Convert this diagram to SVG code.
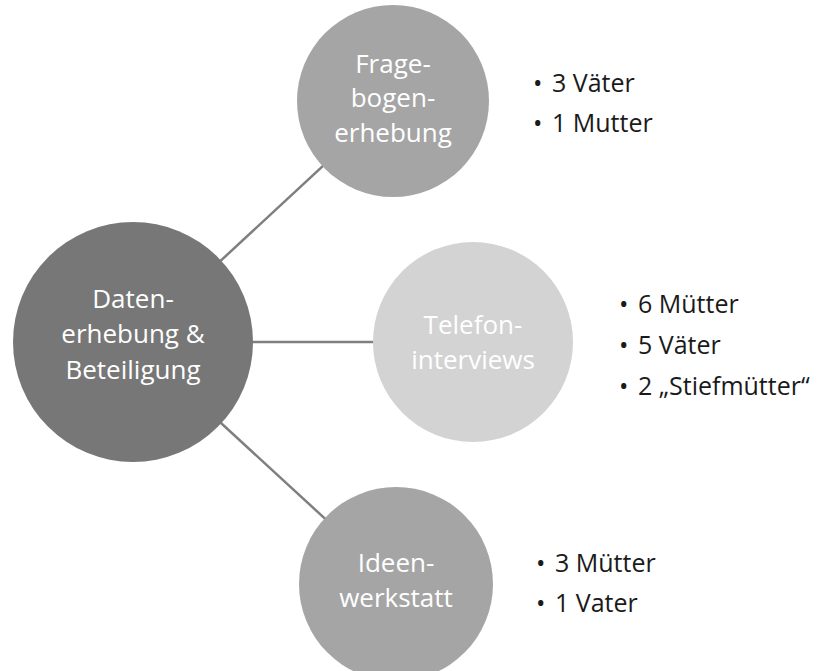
<svg xmlns="http://www.w3.org/2000/svg" width="823" height="671" viewBox="0 0 823 671">
  <style>
    .lbl { font-family: "Open Sans", "Liberation Sans", sans-serif; font-size: 26px; fill: #ffffff; text-anchor: middle; }
    .itm { font-family: "Open Sans", "Liberation Sans", sans-serif; font-size: 25px; fill: #1a1a1a; }
    .conn { stroke: #7f7f7f; stroke-width: 2.5; fill: none; }
  </style>
  <rect width="823" height="671" fill="#ffffff"/>
  <g id="connectors">
    <line class="conn" x1="133" y1="342" x2="393" y2="101"/>
    <line class="conn" x1="133" y1="342" x2="473" y2="342"/>
    <line class="conn" x1="133" y1="342" x2="396" y2="584"/>
  </g>
  <g id="node-main">
    <circle cx="133" cy="342" r="120" fill="#777777"/>
    <text class="lbl" x="133" y="308">Daten-</text>
    <text class="lbl" x="133" y="343">erhebung &amp;</text>
    <text class="lbl" x="133" y="379">Beteiligung</text>
  </g>
  <g id="node-fragebogen">
    <circle cx="393" cy="101" r="96" fill="#a5a5a5"/>
    <text class="lbl" x="393" y="73">Frage-</text>
    <text class="lbl" x="393" y="107">bogen-</text>
    <text class="lbl" x="393" y="142">erhebung</text>
  </g>
  <g id="node-telefon">
    <circle cx="473" cy="342" r="100" fill="#d3d3d3"/>
    <text class="lbl" x="473" y="334">Telefon-</text>
    <text class="lbl" x="473" y="369">interviews</text>
  </g>
  <g id="node-ideen">
    <circle cx="396" cy="584" r="97" fill="#a5a5a5"/>
    <text class="lbl" x="396" y="572">Ideen-</text>
    <text class="lbl" x="396" y="607">werkstatt</text>
  </g>
  <g id="list-fragebogen">
    <text class="itm" x="533" y="92">•</text><text class="itm" x="552" y="92">3 Väter</text>
    <text class="itm" x="533" y="132">•</text><text class="itm" x="552" y="132">1 Mutter</text>
  </g>
  <g id="list-telefon">
    <text class="itm" x="619" y="313">•</text><text class="itm" x="638" y="313">6 Mütter</text>
    <text class="itm" x="619" y="354">•</text><text class="itm" x="638" y="354">5 Väter</text>
    <text class="itm" x="619" y="395">•</text><text class="itm" x="638" y="395">2 „Stiefmütter“</text>
  </g>
  <g id="list-ideen">
    <text class="itm" x="536" y="572">•</text><text class="itm" x="555" y="572">3 Mütter</text>
    <text class="itm" x="536" y="612">•</text><text class="itm" x="555" y="612">1 Vater</text>
  </g>
</svg>
